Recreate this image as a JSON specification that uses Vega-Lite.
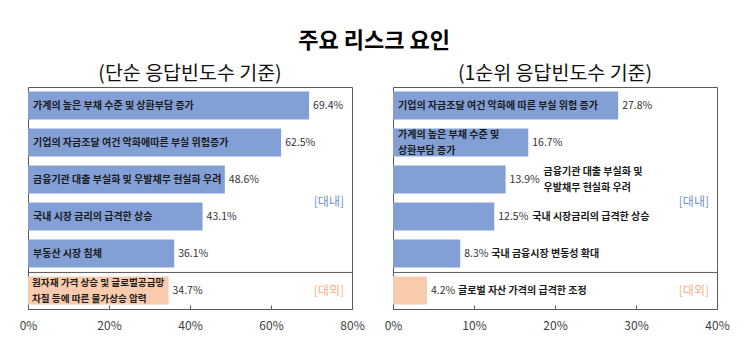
{
  "$schema": "https://vega.github.io/schema/vega-lite/v6.json",
  "background": "white",
  "padding": {"left": 18, "top": 30, "right": 10, "bottom": 5},
  "title": {"text": "주요 리스크 요인", "fontSize": 22, "fontWeight": "bold", "font": "Noto Sans CJK KR", "anchor": "middle", "color": "#000000", "offset": 10},
  "config": {
    "font": "Noto Sans CJK KR",
    "view": {"stroke": "#595959", "strokeWidth": 1},
    "title": {"font": "Noto Sans CJK KR", "fontSize": 19.5, "fontWeight": "normal", "color": "#111111", "offset": 3, "anchor": "middle"},
    "axis": {"labelFont": "Noto Sans CJK KR", "labelFontSize": 12, "labelColor": "#404040", "domainColor": "#595959", "tickColor": "#595959", "tickSize": -4, "labelPadding": 15, "grid": false, "title": null}
  },
  "datasets": {
    "simple": [
      {"rank": 1, "label": "가계의 높은 부채 수준 및 상환부담 증가", "v": 69.4, "group": "대내"},
      {"rank": 2, "label": "기업의 자금조달 여건 악화에따른 부실 위험증가", "v": 62.5, "group": "대내"},
      {"rank": 3, "label": "금융기관 대출 부실화 및 우발채무 현실화 우려", "v": 48.6, "group": "대내"},
      {"rank": 4, "label": "국내 시장 금리의 급격한 상승", "v": 43.1, "group": "대내"},
      {"rank": 5, "label": "부동산 시장 침체", "v": 36.1, "group": "대내"},
      {"rank": 6, "label": "원자재 가격 상승 및 글로벌공급망\n차질 등에 따른 물가상승 압력", "v": 34.7, "group": "대외"}
    ],
    "first": [
      {"rank": 1, "label": "기업의 자금조달 여건 악화에 따른 부실 위험 증가", "v": 27.8, "group": "대내"},
      {"rank": 2, "label": "가계의 높은 부채 수준 및\n상환부담 증가", "v": 16.7, "group": "대내"},
      {"rank": 3, "label": "금융기관 대출 부실화 및\n우발채무 현실화 우려", "v": 13.9, "group": "대내"},
      {"rank": 4, "label": "국내 시장금리의 급격한 상승", "v": 12.5, "group": "대내"},
      {"rank": 5, "label": "국내 금융시장 변동성 확대", "v": 8.3, "group": "대내"},
      {"rank": 6, "label": "글로벌 자산 가격의 급격한 조정", "v": 4.2, "group": "대외"}
    ]
  },
  "spacing": 41,
  "bounds": "flush",
  "hconcat": [
    {
      "width": 324, "height": 222,
      "title": "(단순 응답빈도수 기준)",
      "data": {"name": "simple"},
      "transform": [
        {"calculate": "format(datum.v, '.1f') + '%'", "as": "vl"},
        {"calculate": "indexof(datum.label, '\\n') >= 0", "as": "multi"}
      ],
      "encoding": {"y": {"field": "rank", "type": "ordinal", "axis": null, "scale": {"paddingInner": 0.24, "paddingOuter": 0.12}}},
      "layer": [
        {"mark": {"type": "bar"},
         "encoding": {
           "x": {"field": "v", "type": "quantitative", "scale": {"domain": [0, 80]}, "axis": {"values": [0, 20, 40, 60, 80], "labelExpr": "datum.value + '%'", "labelFlush": false}},
           "color": {"field": "group", "type": "nominal", "scale": {"domain": ["대내", "대외"], "range": ["#83A0D6", "#F8CBAD"]}, "legend": null}}},
        {"mark": {"type": "text", "align": "left", "dx": 4, "fontSize": 10.5, "color": "#333333"},
         "encoding": {"x": {"field": "v", "type": "quantitative"}, "text": {"field": "vl"}}},
        {"transform": [{"filter": "datum.v >= 15 && !datum.multi"}],
         "mark": {"type": "text", "align": "left", "dx": 5, "fontSize": 10, "fontWeight": "bold", "color": "#1a1a1a"},
         "encoding": {"x": {"datum": 0}, "text": {"field": "label"}}},
        {"transform": [{"filter": "datum.v >= 15 && datum.multi"}],
         "mark": {"type": "text", "align": "left", "dx": 4, "dy": -8, "fontSize": 9.6, "fontWeight": "bold", "color": "#1a1a1a", "lineBreak": "\n", "lineHeight": 16},
         "encoding": {"x": {"datum": 0}, "text": {"field": "label"}}},
        {"transform": [{"filter": "datum.group == '대외'"}],
         "mark": {"type": "rule", "color": "#595959", "yOffset": -4},
         "encoding": {"y": {"field": "rank", "type": "ordinal", "bandPosition": 0}}},
        {"transform": [{"filter": "datum.rank == 4"}],
         "mark": {"type": "text", "align": "right", "dx": -8, "fontSize": 12, "color": "#6C93CF"},
         "encoding": {"x": {"value": "width"}, "y": {"field": "rank", "type": "ordinal", "bandPosition": 0}, "text": {"value": "[대내]"}}},
        {"transform": [{"filter": "datum.rank == 6"}],
         "mark": {"type": "text", "align": "right", "dx": -8, "fontSize": 12, "color": "#F4B183"},
         "encoding": {"x": {"value": "width"}, "text": {"value": "[대외]"}}}
      ]
    },
    {
      "width": 324, "height": 222,
      "title": "(1순위 응답빈도수 기준)",
      "data": {"name": "first"},
      "transform": [
        {"calculate": "format(datum.v, '.1f') + '%'", "as": "vl"},
        {"calculate": "indexof(datum.label, '\\n') >= 0", "as": "multi"}
      ],
      "encoding": {"y": {"field": "rank", "type": "ordinal", "axis": null, "scale": {"paddingInner": 0.24, "paddingOuter": 0.12}}},
      "layer": [
        {"mark": {"type": "bar"},
         "encoding": {
           "x": {"field": "v", "type": "quantitative", "scale": {"domain": [0, 40]}, "axis": {"values": [0, 10, 20, 30, 40], "labelExpr": "datum.value + '%'", "labelFlush": false}},
           "color": {"field": "group", "type": "nominal", "scale": {"domain": ["대내", "대외"], "range": ["#83A0D6", "#F8CBAD"]}, "legend": null}}},
        {"mark": {"type": "text", "align": "left", "dx": 4, "fontSize": 10.5, "color": "#333333"},
         "encoding": {"x": {"field": "v", "type": "quantitative"}, "text": {"field": "vl"}}},
        {"transform": [{"filter": "datum.v >= 15 && !datum.multi"}],
         "mark": {"type": "text", "align": "left", "dx": 5, "fontSize": 10, "fontWeight": "bold", "color": "#1a1a1a"},
         "encoding": {"x": {"datum": 0}, "text": {"field": "label"}}},
        {"transform": [{"filter": "datum.v >= 15 && datum.multi"}],
         "mark": {"type": "text", "align": "left", "dx": 5, "dy": -8, "fontSize": 10, "fontWeight": "bold", "color": "#1a1a1a", "lineBreak": "\n", "lineHeight": 16},
         "encoding": {"x": {"datum": 0}, "text": {"field": "label"}}},
        {"transform": [{"filter": "datum.v < 15 && datum.v >= 10 && datum.multi"}],
         "mark": {"type": "text", "align": "left", "dx": 38, "dy": -8, "fontSize": 10, "fontWeight": "bold", "color": "#1a1a1a", "lineBreak": "\n", "lineHeight": 16},
         "encoding": {"x": {"field": "v", "type": "quantitative"}, "text": {"field": "label"}}},
        {"transform": [{"filter": "datum.v < 15 && datum.v >= 10 && !datum.multi"}],
         "mark": {"type": "text", "align": "left", "dx": 38, "fontSize": 10, "fontWeight": "bold", "color": "#1a1a1a"},
         "encoding": {"x": {"field": "v", "type": "quantitative"}, "text": {"field": "label"}}},
        {"transform": [{"filter": "datum.v < 10"}],
         "mark": {"type": "text", "align": "left", "dx": 31, "fontSize": 10, "fontWeight": "bold", "color": "#1a1a1a"},
         "encoding": {"x": {"field": "v", "type": "quantitative"}, "text": {"field": "label"}}},
        {"transform": [{"filter": "datum.group == '대외'"}],
         "mark": {"type": "rule", "color": "#595959", "yOffset": -4},
         "encoding": {"y": {"field": "rank", "type": "ordinal", "bandPosition": 0}}},
        {"transform": [{"filter": "datum.rank == 4"}],
         "mark": {"type": "text", "align": "right", "dx": -8, "fontSize": 12, "color": "#6C93CF"},
         "encoding": {"x": {"value": "width"}, "y": {"field": "rank", "type": "ordinal", "bandPosition": 0}, "text": {"value": "[대내]"}}},
        {"transform": [{"filter": "datum.rank == 6"}],
         "mark": {"type": "text", "align": "right", "dx": -8, "fontSize": 12, "color": "#F4B183"},
         "encoding": {"x": {"value": "width"}, "text": {"value": "[대외]"}}}
      ]
    }
  ]
}
